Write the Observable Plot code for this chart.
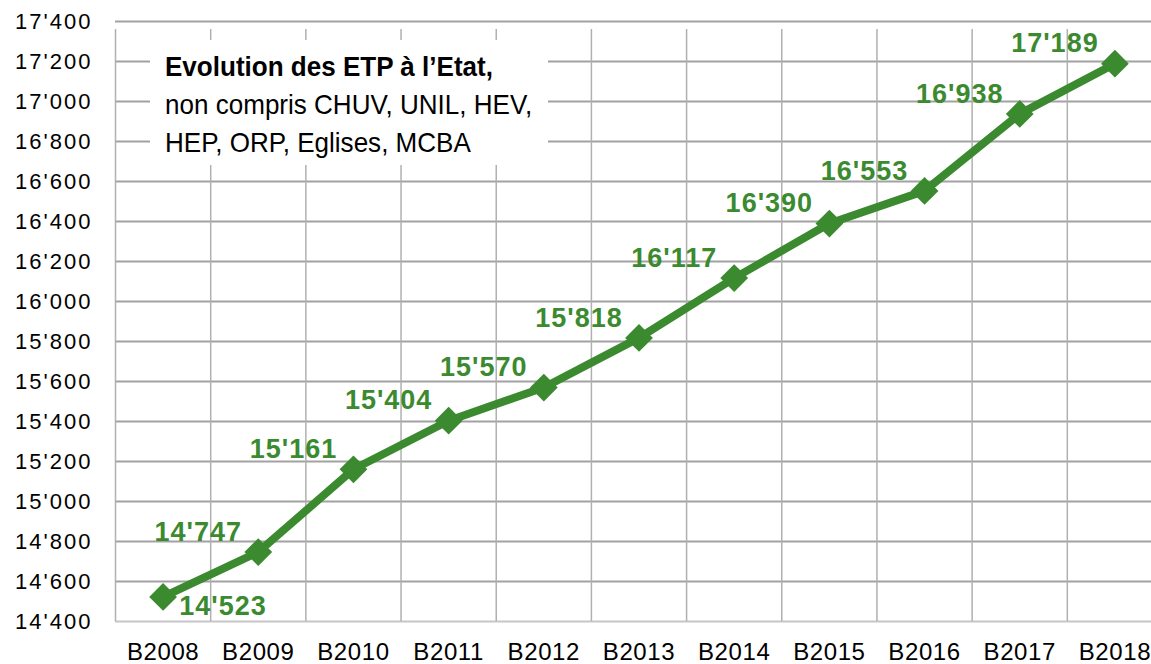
<!DOCTYPE html>
<html>
<head>
<meta charset="utf-8">
<script src="https://cdn.jsdelivr.net/npm/d3@7"></script>
<script src="https://cdn.jsdelivr.net/npm/@observablehq/plot@0.6"></script>
<style>
  html, body { margin: 0; padding: 0; background: #fff; overflow: hidden; }
  #wrap { position: relative; width: 1151px; height: 664px; overflow: hidden; }
  #chart svg { max-width: none !important; display: block; }
  #chart [aria-label="y-axis tick label"] text { letter-spacing: 2px; }
  #chart [aria-label="x-axis tick label"] text { letter-spacing: 0.6px; }
  #chart [aria-label="text"] text { letter-spacing: 1px; }
  #note {
    position: absolute; left: 150px; top: 40px; width: 398px; height: 125px;
    background: #fff; box-sizing: border-box; padding: 8px 0 0 15px;
    font-family: "Liberation Sans Narrow", "Arial Narrow", "Liberation Sans", sans-serif;
    font-size: 28px; line-height: 38px; color: #000; white-space: nowrap;
  }
  #note div { transform: scaleX(0.93); transform-origin: 0 50%; }
  #note .t { font-weight: bold; }
</style>
</head>
<body>
<div id="wrap">
  <div id="chart"></div>
  <div id="note"></div>
</div>
<script>
const categories = ["B2008", "B2009", "B2010", "B2011", "B2012", "B2013", "B2014", "B2015", "B2016", "B2017", "B2018"];
const values = [14523, 14747, 15161, 15404, 15570, 15818, 16117, 16390, 16553, 16938, 17189];
const yTicks = [14400, 14600, 14800, 15000, 15200, 15400, 15600, 15800, 16000, 16200, 16400, 16600, 16800, 17000, 17200, 17400];
const titleLines = ["Evolution des ETP à l\u2019Etat,", "non compris CHUV, UNIL, HEV,", "HEP, ORP, Eglises, MCBA"];

const green = "#3b8a2f";
const fmt = d3.formatLocale({decimal: ".", thousands: "'", grouping: [3], currency: ["", ""]}).format(",d");
const idx = categories.map((c, i) => i);
const bounds = d3.range(categories.length + 1).map(i => i - 0.5);
const points = values.map((v, i) => ({i, v}));

const chart = Plot.plot({
  width: 1162,
  height: 664,
  marginLeft: 115,
  marginRight: 0,
  marginTop: 21,
  marginBottom: 43,
  style: {fontFamily: "'Liberation Sans', Arial, sans-serif", background: "#fff", color: "#000"},
  x: {domain: [-0.5, categories.length - 0.5], axis: null},
  y: {domain: [yTicks[0], yTicks[yTicks.length - 1]], axis: null},
  marks: [
    Plot.ruleY(yTicks.slice(1), {stroke: "#a2a2a2", strokeWidth: 2}),
    Plot.ruleY([yTicks[0]], {stroke: "#c6c6c6", strokeWidth: 2}),
    Plot.ruleX(bounds, {x: d => d, y1: yTicks[0], y2: yTicks[yTicks.length - 1], insetBottom: -8, stroke: "#b0b0b0", strokeWidth: 1.5}),
    Plot.axisY(yTicks, {label: null, tickSize: 0, tickPadding: 23, tickFormat: fmt, fontSize: 22}),
    Plot.axisX(idx, {label: null, tickSize: 0, tickPadding: 21, tickFormat: i => categories[i], fontSize: 24}),
    Plot.line(points, {x: "i", y: "v", stroke: green, strokeWidth: 8, strokeLinejoin: "round"}),
    Plot.dot(points, {x: "i", y: "v", symbol: "diamond2", r: 12.5, fill: green, stroke: "none"}),
    Plot.text(points.slice(1), {x: "i", y: "v", text: d => fmt(d.v), dx: -60, dy: -20, fill: green, fontWeight: "bold", fontSize: 27}),
    Plot.text(points.slice(0, 1), {x: "i", y: "v", text: d => fmt(d.v), dx: 60, dy: 9, fill: green, fontWeight: "bold", fontSize: 27})
  ]
});
document.getElementById("chart").appendChild(chart);

const note = document.getElementById("note");
titleLines.forEach((t, k) => {
  const div = document.createElement("div");
  div.textContent = t;
  if (k === 0) div.className = "t";
  note.appendChild(div);
});
</script>
</body>
</html>
